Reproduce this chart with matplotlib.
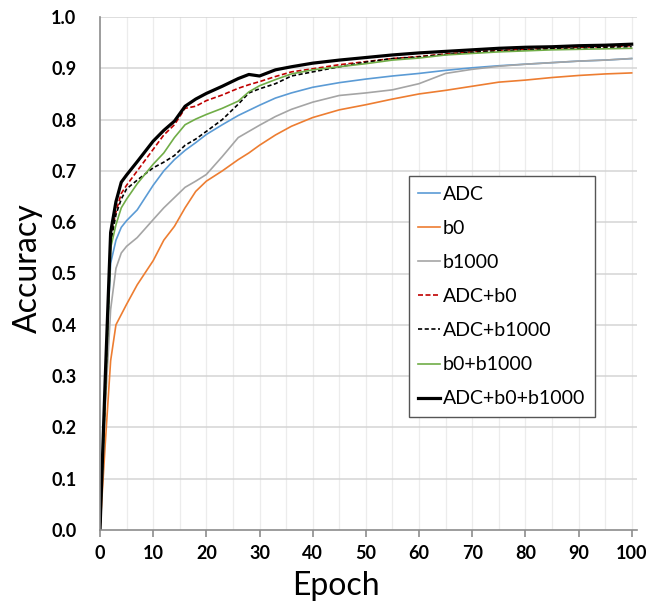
import matplotlib
matplotlib.use("Agg")
import matplotlib.pyplot as plt

plt.rcParams['font.family'] = ['Lato', 'DejaVu Sans']

epochs = [0, 1, 2, 3, 4, 5, 7, 10, 12, 14, 16, 18, 20, 23, 26, 28, 30, 33, 36, 40,
          45, 50, 55, 60, 65, 70, 75, 80, 85, 90, 95, 100]

adc = [0, 0.30, 0.52, 0.565, 0.59, 0.603, 0.624, 0.672, 0.700, 0.722, 0.740, 0.755,
       0.771, 0.790, 0.808, 0.818, 0.828, 0.842, 0.852, 0.863, 0.872, 0.879, 0.885,
       0.890, 0.896, 0.901, 0.905, 0.908, 0.911, 0.914, 0.916, 0.919]
b0 = [0, 0.17, 0.33, 0.40, 0.42, 0.44, 0.478, 0.525, 0.565, 0.592, 0.628, 0.660,
      0.680, 0.700, 0.722, 0.735, 0.750, 0.770, 0.787, 0.804, 0.819, 0.829, 0.840,
      0.850, 0.857, 0.865, 0.873, 0.877, 0.882, 0.886, 0.889, 0.891]
b1000 = [0, 0.24, 0.43, 0.51, 0.54, 0.553, 0.570, 0.605, 0.628, 0.648, 0.668, 0.680,
         0.693, 0.728, 0.765, 0.777, 0.789, 0.806, 0.820, 0.834, 0.847, 0.852, 0.858,
         0.870, 0.890, 0.898, 0.904, 0.908, 0.911, 0.914, 0.916, 0.919]
adc_b0 = [0, 0.28, 0.57, 0.62, 0.656, 0.672, 0.700, 0.742, 0.770, 0.790, 0.822, 0.826,
          0.837, 0.848, 0.861, 0.868, 0.874, 0.884, 0.893, 0.899, 0.907, 0.913, 0.919,
          0.923, 0.928, 0.932, 0.935, 0.937, 0.939, 0.941, 0.942, 0.944]
adc_b1000 = [0, 0.27, 0.56, 0.615, 0.645, 0.665, 0.682, 0.706, 0.717, 0.730, 0.750, 0.762,
             0.777, 0.800, 0.830, 0.852, 0.860, 0.870, 0.885, 0.893, 0.903, 0.912, 0.919,
             0.922, 0.927, 0.931, 0.934, 0.936, 0.938, 0.939, 0.941, 0.942]
b0_b1000 = [0, 0.26, 0.55, 0.595, 0.628, 0.645, 0.675, 0.713, 0.735, 0.765, 0.790, 0.801,
            0.810, 0.822, 0.836, 0.854, 0.866, 0.878, 0.889, 0.897, 0.903, 0.909, 0.916,
            0.920, 0.926, 0.929, 0.932, 0.934, 0.936, 0.937, 0.938, 0.939]
adc_b0_b1000 = [0, 0.30, 0.58, 0.64, 0.678, 0.692, 0.718, 0.758, 0.779, 0.797, 0.826, 0.840,
                0.851, 0.865, 0.880, 0.888, 0.885, 0.897, 0.903, 0.910, 0.916, 0.921, 0.926,
                0.930, 0.933, 0.936, 0.939, 0.941, 0.942, 0.944, 0.945, 0.947]

labels = ['ADC', 'b0', 'b1000', 'ADC+b0', 'ADC+b1000', 'b0+b1000', 'ADC+b0+b1000']

fig = plt.figure(figsize=(6.56, 6.07), dpi=100)
ax = fig.add_axes([100 / 656, 1 - 530 / 607, 537 / 656, 513 / 607])

# minor vertical grid every 5 epochs, stronger horizontal grid every 0.1
for x in range(5, 101, 5):
    ax.axvline(x, color='#ececec', lw=0.9, zorder=0)
for y in [i / 10 for i in range(1, 11)]:
    ax.axhline(y, color='#d4d4d4', lw=1.1, zorder=0)

ax.plot(epochs, adc, color='#5b9bd5', lw=1.2, label=labels[0])
ax.plot(epochs, b0, color='#ed7d31', lw=1.2, label=labels[1])
ax.plot(epochs, b1000, color='#a5a5a5', lw=1.2, label=labels[2])
ax.plot(epochs, adc_b0, color='#c00000', lw=1.2, ls=(0, (3, 1.5)), label=labels[3])
ax.plot(epochs, adc_b1000, color='#000000', lw=1.2, ls=(0, (2.5, 1.5)), label=labels[4])
ax.plot(epochs, b0_b1000, color='#70ad47', lw=1.2, label=labels[5])
ax.plot(epochs, adc_b0_b1000, color='#000000', lw=2.3, label=labels[6])

ax.set_xlim(0, 101)
ax.set_ylim(0, 1.0)
ax.set_xticks(range(0, 101, 10))
ax.set_yticks([i / 10 for i in range(11)])
ax.set_yticklabels(['%.1f' % (i / 10) for i in range(11)])

for s in ['top', 'right']:
    ax.spines[s].set_visible(False)
ax.spines['left'].set_color('#8c8c8c')
ax.spines['bottom'].set_color('#8c8c8c')
ax.spines['left'].set_linewidth(1.2)
ax.spines['bottom'].set_linewidth(1.2)

ax.tick_params(axis='x', direction='out', length=5, width=1.2, color='#8c8c8c', pad=6)
ax.tick_params(axis='y', length=0, pad=17)
for t in ax.get_xticklabels() + ax.get_yticklabels():
    t.set_fontweight('bold')
    t.set_fontsize(13)

ax.set_xlabel('Epoch', fontsize=23)
ax.set_ylabel('Accuracy', fontsize=23)
ax.xaxis.set_label_coords(0.44, -0.08)
ax.yaxis.set_label_coords(-0.106, 0.51)

leg = ax.legend(loc='upper left', bbox_to_anchor=(0.575, 0.690), borderaxespad=0,
                fontsize=14, handlelength=1.1, handletextpad=0.15, labelspacing=0.88,
                fancybox=False, framealpha=1, edgecolor='#555555', borderpad=0.5)
leg.get_frame().set_linewidth(1.0)

fig.savefig('out.png', dpi=100)
